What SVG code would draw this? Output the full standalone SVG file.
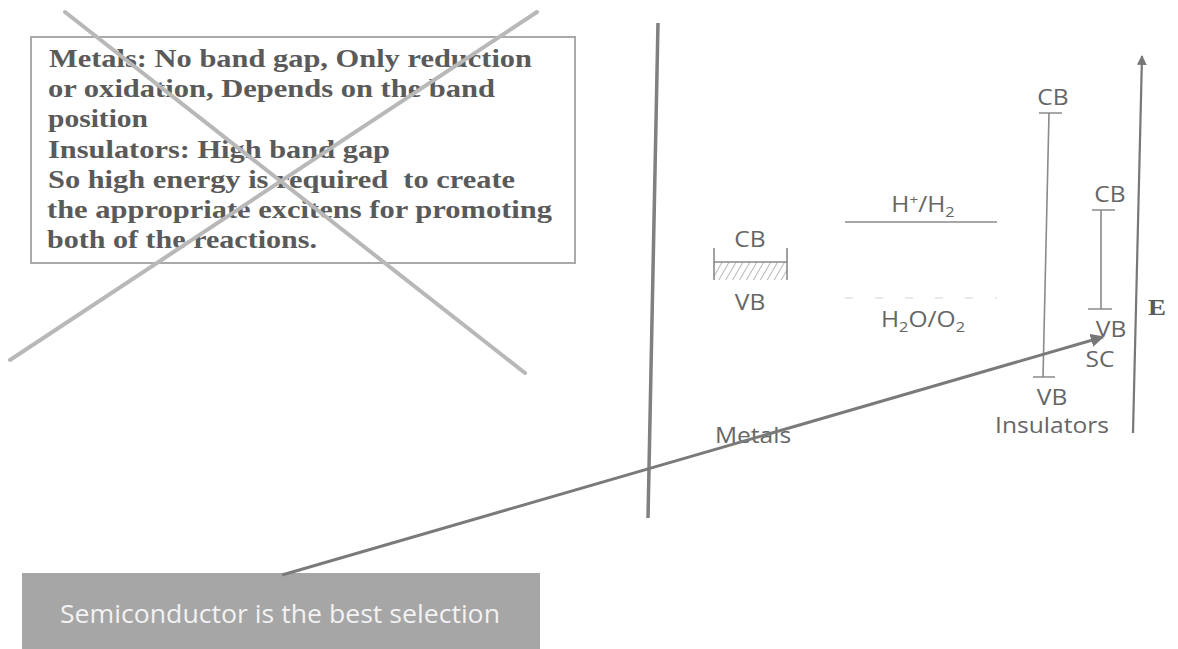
<svg xmlns="http://www.w3.org/2000/svg" width="1178" height="649" viewBox="0 0 1178 649">
<defs>
<style>
.lbl{font-family:"Open Sans","DejaVu Sans",sans-serif;font-size:21px;fill:#666;text-anchor:middle}
.ser{font-family:"Liberation Serif","Times New Roman",serif;font-weight:bold;font-size:26px;fill:#5a5a5a}
.ln{stroke:#8a8a8a;stroke-width:1.6;fill:none}
.cross{stroke:#b8b8b8;stroke-width:4;fill:none;stroke-linecap:round}
</style>
<marker id="ah" viewBox="0 0 10 10" refX="9" refY="5" markerWidth="4.5" markerHeight="4.5" orient="auto"><path d="M0,0 L10,5 L0,10 z" fill="#777"/></marker>
<pattern id="hatch" width="6" height="6" patternUnits="userSpaceOnUse" patternTransform="rotate(30)"><line x1="0" y1="0" x2="0" y2="6" stroke="#888" stroke-width="1.2"/></pattern>
</defs>
<rect width="1178" height="649" fill="#fff"/>

<g id="note">
<rect x="31" y="37" width="544" height="226" fill="none" stroke="#aaa" stroke-width="2"/>
<text class="ser" x="49" y="67" textLength="483" lengthAdjust="spacingAndGlyphs">Metals: No band gap, Only reduction</text>
<text class="ser" x="48" y="97" textLength="447" lengthAdjust="spacingAndGlyphs">or oxidation, Depends on the band</text>
<text class="ser" x="48" y="127" textLength="100" lengthAdjust="spacingAndGlyphs">position</text>
<text class="ser" x="48" y="158" textLength="342" lengthAdjust="spacingAndGlyphs">Insulators: High band gap</text>
<text class="ser" x="48" y="188" textLength="467" lengthAdjust="spacingAndGlyphs" xml:space="preserve">So high energy is required  to create</text>
<text class="ser" x="47" y="218" textLength="505" lengthAdjust="spacingAndGlyphs">the appropriate excitens for promoting</text>
<text class="ser" x="47" y="248" textLength="270" lengthAdjust="spacingAndGlyphs">both of the reactions.</text>
</g>
<g id="cross">
<line class="cross" x1="65" y1="12" x2="525" y2="373"/>
<line class="cross" x1="537" y1="12" x2="10" y2="360"/>
</g>

<g id="divider"><line x1="658" y1="23" x2="648" y2="518" stroke="#808080" stroke-width="3.5"/></g>

<g id="metals">
<text class="lbl" transform="translate(750,247) scale(1.17,1)">CB</text>
<rect x="714" y="262" width="73" height="18" fill="url(#hatch)"/>
<path class="ln" d="M714,248 V280 M787,248 V280 M714,262 H787"/>
<text class="lbl" transform="translate(750,310) scale(1.17,1)">VB</text>
<text class="lbl" transform="translate(753,443) scale(1.17,1)" font-size="25">Metals</text>
</g>

<g id="redox">
<text class="lbl" transform="translate(923,212) scale(1.17,1)">H<tspan font-size="13" dy="-8">+</tspan><tspan dy="8">/H</tspan><tspan font-size="14" dy="5">2</tspan></text>
<line class="ln" x1="845" y1="222" x2="997" y2="222"/>
<line x1="845" y1="298" x2="997" y2="298" stroke="#e2e2e2" stroke-width="1.5" stroke-dasharray="8 22"/>
<text class="lbl" transform="translate(923,327) scale(1.17,1)">H<tspan font-size="14" dy="5">2</tspan><tspan dy="-5">O/O</tspan><tspan font-size="14" dy="5">2</tspan></text>
</g>

<g id="insulators">
<text class="lbl" transform="translate(1053,105) scale(1.17,1)">CB</text>
<path class="ln" d="M1039,113 H1062 M1049,113 L1043,377 M1033,377 H1055"/>
<text class="lbl" transform="translate(1052,405) scale(1.17,1)">VB</text>
<text class="lbl" transform="translate(1052,433) scale(1.17,1)" font-size="23">Insulators</text>
</g>

<g id="sc">
<text class="lbl" transform="translate(1110,202) scale(1.17,1)">CB</text>
<path class="ln" d="M1092,210 H1115 M1101,210 V309 M1088,309 H1112"/>
<text class="lbl" transform="translate(1111,337) scale(1.17,1)">VB</text>
<text class="lbl" transform="translate(1100,367) scale(1.17,1)">SC</text>
</g>

<g id="axis">
<line x1="1133" y1="433" x2="1142" y2="56" stroke="#777" stroke-width="2.2" marker-end="url(#ah)"/>
<text transform="translate(1157,315) scale(1.17,1)" font-family="Liberation Serif,serif" font-weight="bold" font-size="23" fill="#5a5a5a" text-anchor="middle">E</text>
</g>

<g id="semiconductor">
<rect x="22" y="573" width="518" height="76" fill="#a6a6a6"/>
<text x="60" y="623" font-family="Open Sans,sans-serif" font-size="25" fill="#f2f2f2" textLength="440" lengthAdjust="spacingAndGlyphs">Semiconductor is the best selection</text>
</g>

<g id="connectors">
<line x1="282" y1="575" x2="1103" y2="337" stroke="#7a7a7a" stroke-width="3" marker-end="url(#ah)"/>
</g>
</svg>
